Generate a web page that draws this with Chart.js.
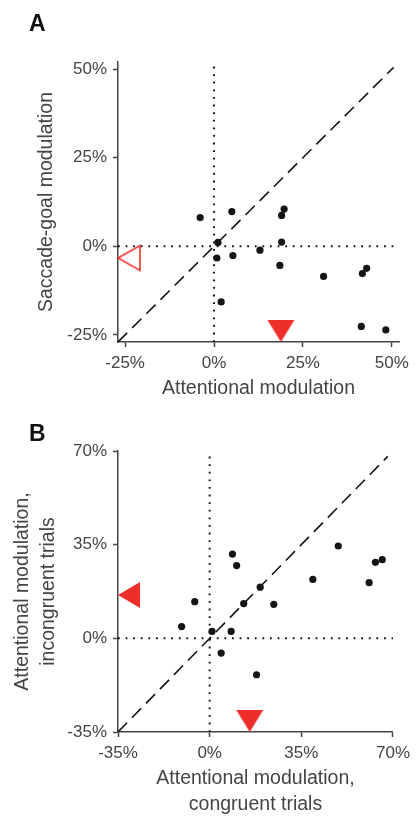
<!DOCTYPE html>
<html>
<head>
<meta charset="utf-8">
<script src="https://cdn.jsdelivr.net/npm/chart.js@4.4.1/dist/chart.umd.min.js"></script>
<style>
  html, body { margin: 0; padding: 0; background: #fff; width: 416px; height: 816px; overflow: hidden; }
  canvas { position: absolute; left: 0; }
  .letter { position: absolute; font: bold 23px 'Liberation Sans', Arial, sans-serif; line-height: 23px; color: #111; }
</style>
</head>
<body>
<canvas id="chartA" width="416" height="400" style="top:0"></canvas>
<canvas id="chartB" width="416" height="418" style="top:400px"></canvas>
<div class="letter" style="left:29px; top:12px">A</div>
<div class="letter" style="left:29px; top:422px">B</div>
<script>
// Panel A: attentional vs saccade-goal modulation, one value per neuron (%)
const attnA = [-3.9, 5.0, 19.7, 19.0, 1.1, 19.0, 12.9, 0.8, 5.3, 18.5, 30.8, 41.7, 42.9, 2.0, 41.4, 48.3];
const saccA = [8.1, 9.8, 10.5, 8.7, 1.1, 1.2, -1.1, -3.3, -2.6, -5.4, -8.5, -7.7, -6.2, -15.7, -22.6, -23.6];
const ticksA = [-25, 0, 25, 50];
const rangeA = [-27, 52];
const diagA = [-27, 50.5];
const medianA = [18.8, -3.3];

// Panel B: attentional modulation, congruent vs incongruent trials (%)
const congB = [-10.7, -5.7, 0.9, 8.2, 4.4, 8.7, 10.3, 13.0, 19.3, 24.5, 17.9, 39.4, 49.1, 60.9, 63.3, 65.9];
const incongB = [4.4, 13.7, 2.6, 2.6, -5.5, 31.5, 27.2, 13.0, 19.1, 12.7, -13.6, 22.0, 34.5, 20.8, 28.4, 29.4];
const ticksB = [-35, 0, 35, 70];
const rangeB = [-35, 70];
const diagB = [-35, 68];
const medianB = [15.3, 16.2];

const RED = '#ee2e2a';
const INK = '#444';
Chart.defaults.font.family = "'Liberation Sans', Arial, Helvetica, sans-serif";

// triangle marker whose tip sits exactly on the data point
function triangle(dir, w, h, filled) {
    const c = document.createElement('canvas');
    const p = 2;
    if (dir === 'down') {
        c.width = w + 2 * p; c.height = 2 * h + 2 * p;
    } else {
        c.width = 2 * w + 2 * p; c.height = h + 2 * p;
    }
    const g = c.getContext('2d');
    g.beginPath();
    if (dir === 'down') {
        g.moveTo(p, p); g.lineTo(p + w, p); g.lineTo(p + w / 2, p + h);
    } else {
        g.moveTo(2 * w + p, p); g.lineTo(2 * w + p, p + h); g.lineTo(w + p, p + h / 2);
    }
    g.closePath();
    g.fillStyle = filled ? RED : '#fff';
    g.fill();
    if (!filled) {
        g.lineWidth = 1.6;
        g.strokeStyle = RED;
        g.stroke();
    }
    return c;
}

function axis(range, ticks, size, title, titlePad, lineHeight) {
    return {
        type: 'linear', min: range[0], max: range[1],
        afterBuildTicks: s => { s.ticks = ticks.map(v => ({ value: v })); },
        afterFit: s => { if (s.isHorizontal()) s.height = size; else s.width = size; },
        border: { display: true, color: INK, width: 1.5 },
        grid: { drawOnChartArea: false, drawTicks: true, tickLength: 5, tickWidth: 1.5, tickColor: INK },
        ticks: { color: INK, font: { size: 17 }, padding: 6, autoSkip: false, maxRotation: 0, callback: v => v + '%' },
        title: { display: true, text: title, color: INK, font: { size: 19.5, lineHeight: lineHeight }, padding: titlePad }
    };
}

function pts(xs, ys) {
    return xs.map((x, i) => ({ x: x, y: ys[i] }));
}

function panel(id, p) {
    const [lo, hi] = p.range;
    new Chart(document.getElementById(id), {
        type: 'scatter',
        data: {
            datasets: [
                { data: pts(p.xs, p.ys), backgroundColor: '#151515', borderWidth: 0, pointRadius: 3.6, order: 0 },
                { data: [{ x: p.median[0], y: lo }], pointStyle: triangle('down', 27, 22, true), pointRadius: 5, clip: false, order: 1 },
                { data: [{ x: lo, y: p.median[1] }], pointStyle: triangle('left', 22, p.leftH, p.leftFilled), pointRadius: 5, clip: false, order: 1 },
                { data: pts(p.diag, p.diag), showLine: true, borderColor: '#151515', borderWidth: 1.6, borderDash: [13, 7], pointRadius: 0, order: 2 },
                { data: pts([0, 0], [lo, hi]), showLine: true, borderColor: '#151515', borderWidth: 2, borderDash: [1.8, 5.8], pointRadius: 0, order: 2 },
                { data: pts([lo, hi], [0, 0]), showLine: true, borderColor: '#151515', borderWidth: 2, borderDash: [1.8, 5.8], pointRadius: 0, order: 2 }
            ]
        },
        options: {
            responsive: false,
            animation: false,
            events: [],
            layout: { padding: { top: p.top, right: 17, left: 0, bottom: 0 } },
            plugins: { legend: { display: false }, tooltip: { enabled: false } },
            scales: {
                x: axis(p.range, p.ticks, p.xH, p.xTitle, { top: 0, bottom: 0 }, p.lh),
                y: axis(p.range, p.ticks, 118, p.yTitle, { top: p.yPad, bottom: 0 }, p.lh)
            }
        }
    });
}

panel('chartA', {
    xs: attnA, ys: saccA, range: rangeA, ticks: ticksA, diag: diagA, median: medianA,
    leftH: 25, leftFilled: false, top: 62, xH: 58, lh: 1.2, yPad: 35,
    xTitle: 'Attentional modulation', yTitle: 'Saccade-goal modulation'
});

panel('chartB', {
    xs: congB, ys: incongB, range: rangeB, ticks: ticksB, diag: diagB, median: medianB,
    leftH: 26, leftFilled: true, top: 51, xH: 86, lh: 1.36, yPad: 9,
    xTitle: ['Attentional modulation,', 'congruent trials'],
    yTitle: ['Attentional modulation,', 'incongruent trials']
});
</script>
</body>
</html>
